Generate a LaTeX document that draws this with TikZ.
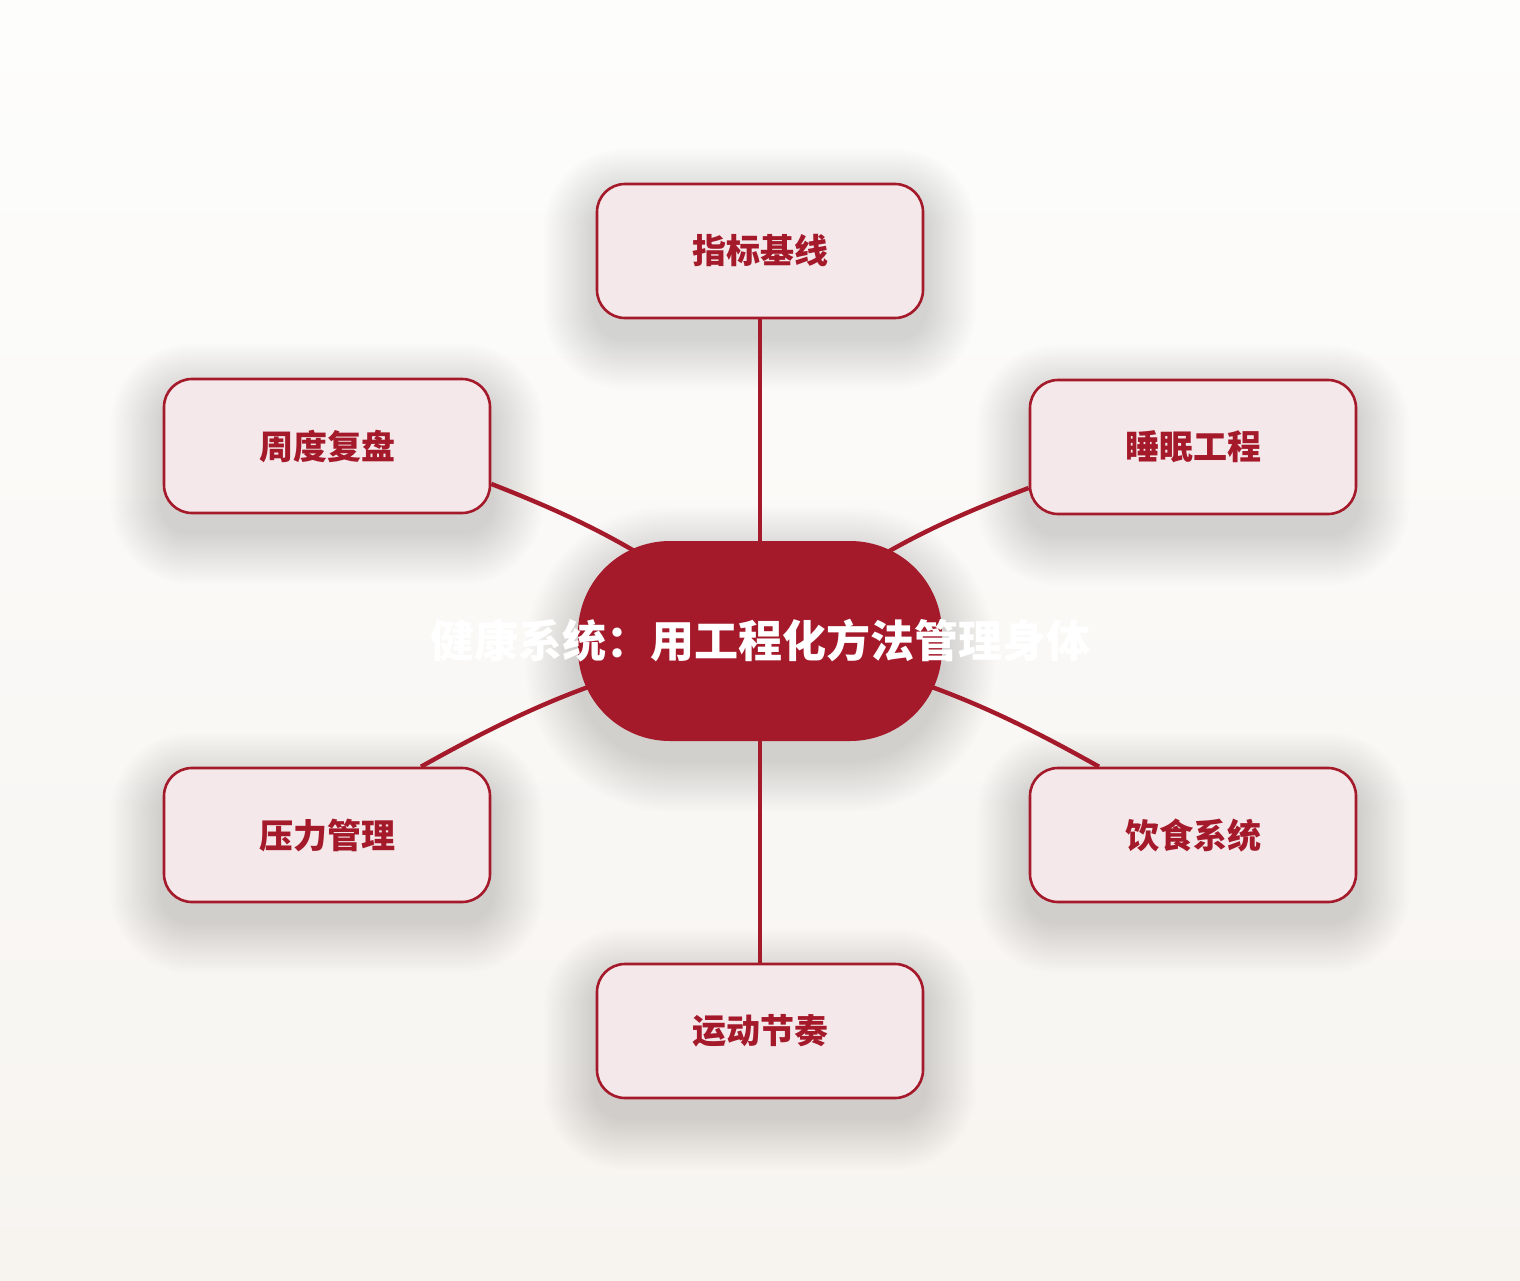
\documentclass[tikz,border=0pt]{standalone}
\usepackage{fontspec}
\setmainfont{Noto Sans CJK SC}
\usetikzlibrary{positioning,backgrounds}
\definecolor{hubred}{HTML}{A51A2B}
\definecolor{leafpink}{HTML}{F4E8EA}
\definecolor{bgtop}{HTML}{FDFDFC}
\definecolor{bgbot}{HTML}{F7F4F0}
\tikzset{
  leaf/.style={draw=hubred,line width=1.3pt,fill=leafpink,rounded corners=14pt,
    minimum width=163pt,minimum height=67pt,text=hubred,
    font=\bfseries\fontsize{17}{20}\selectfont},
  hub/.style={fill=hubred,rounded corners=46pt,minimum width=182pt,
    minimum height=100pt},
  haze/.style={fill=black,opacity=0.009},
  spoke/.style={draw=hubred,line width=2.2pt}
}
\begin{document}
\begin{tikzpicture}[on grid,x=0.5pt,y=-0.5pt,node distance=195pt]
  \useasboundingbox (0,0) rectangle (1520,1280);
  \node[hub,label={[text=white,font=\bfseries\fontsize{22}{26}\selectfont]center:健康系统：用工程化方法管理身体}]
    (hub) at (760,641) {};
  \node[leaf,above=of hub] (base) {指标基线};
  \node[leaf,above left=97.5pt and 216.5pt of hub] (review) {周度复盘};
  \node[leaf,above right=97pt and 216.5pt of hub] (sleep) {睡眠工程};
  \node[leaf,below left=97pt and 216.5pt of hub] (stress) {压力管理};
  \node[leaf,below right=97pt and 216.5pt of hub] (diet) {饮食系统};
  \node[leaf,below=of hub] (sport) {运动节奏};
  \begin{scope}[on background layer]
    \shade[top color=bgtop,bottom color=bgbot] (0,0) rectangle (1520,1280);
    \foreach \r in {1,...,20}{
      \pgfmathsetmacro\sp{1.3*\r}
      \pgfmathsetmacro\rad{14+\sp}
      \foreach \n in {base,review,sleep,stress,diet,sport}
        \fill[haze,rounded corners=\rad pt]
          ([xshift=-\sp pt,yshift=-9pt-\sp pt]\n.south west)
          rectangle ([xshift=\sp pt,yshift=-9pt+\sp pt]\n.north east);
      \pgfmathsetmacro\rad{46+\sp}
      \fill[haze,rounded corners=\rad pt]
        ([xshift=-\sp pt,yshift=-9pt-\sp pt]hub.south west)
        rectangle ([xshift=\sp pt,yshift=-9pt+\sp pt]hub.north east);
    }
    \draw[spoke] (hub.center) -- (base.south);
    \draw[spoke] (hub.center) -- (sport.north);
    \draw[spoke] (hub.center) to[bend right=9] (review.-13.5);
    \draw[spoke] (hub.center) to[bend left=9] (sleep.-166);
    \draw[spoke] (hub.center) to[bend right=9] (stress.36);
    \draw[spoke] (hub.center) to[bend left=9] (diet.144);
  \end{scope}
\end{tikzpicture}
\end{document}
